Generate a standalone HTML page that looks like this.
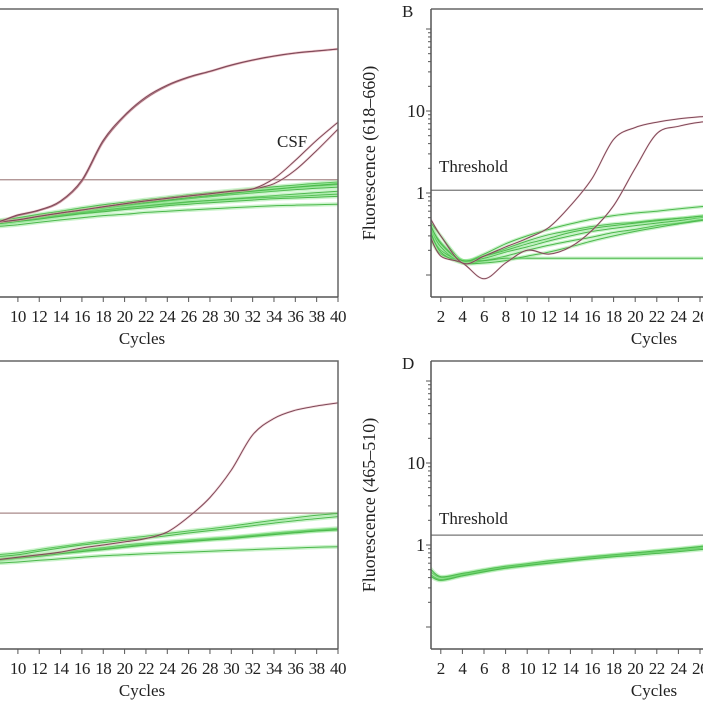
<!DOCTYPE html>
<html><head><meta charset="utf-8"><style>
html,body{margin:0;padding:0;background:#fff;}
svg{display:block;font-family:"Liberation Serif",serif;}
</style></head><body>
<svg id="fig" width="703" height="702" viewBox="0 0 703 702" xmlns="http://www.w3.org/2000/svg">
<defs>
<clipPath id="clipA"><rect x="0" y="9" width="338" height="288"/></clipPath>
<clipPath id="clipB"><rect x="431" y="9" width="272" height="288"/></clipPath>
</defs>
</svg>
<script>
const cycles = [1,2,4,6,8,10,12,14,16,18,20,22,24,26,28,30,32,34,36,38,40];
// Panel A
const aRed1 = [0.40,0.40,0.41,0.42,0.44,0.54,0.62,0.80,1.44,4.4,8.9,14.8,20.7,26,30.6,36.4,41.9,46.9,51,54,57];
const aRed2 = [0.39,0.40,0.41,0.42,0.44,0.53,0.61,0.78,1.38,4.2,8.6,14.3,20.2,25.5,30.2,36,41.5,46.5,50.8,53.8,57];
const aCsf1 = [0.38,0.39,0.40,0.42,0.44,0.47,0.52,0.57,0.62,0.68,0.74,0.80,0.86,0.92,0.98,1.05,1.12,1.5,2.5,4.4,7.3];
const aCsf2 = [0.38,0.39,0.40,0.42,0.44,0.47,0.52,0.57,0.62,0.68,0.74,0.80,0.86,0.92,0.98,1.05,1.12,1.3,1.9,3.3,6.0];
const aGreen = [
 [0.36,0.37,0.39,0.42,0.45,0.48,0.53,0.58,0.63,0.68,0.74,0.79,0.84,0.90,0.95,1.01,1.06,1.12,1.17,1.22,1.27],
 [0.35,0.36,0.38,0.41,0.44,0.47,0.51,0.55,0.60,0.65,0.70,0.75,0.80,0.85,0.90,0.95,1.00,1.05,1.10,1.14,1.18],
 [0.37,0.38,0.40,0.43,0.46,0.50,0.55,0.60,0.66,0.72,0.77,0.83,0.89,0.95,1.01,1.07,1.13,1.19,1.25,1.31,1.36],
 [0.34,0.35,0.37,0.39,0.42,0.45,0.49,0.53,0.57,0.61,0.65,0.69,0.73,0.77,0.81,0.85,0.89,0.93,0.97,1.01,1.05],
 [0.33,0.34,0.35,0.37,0.39,0.41,0.44,0.47,0.50,0.53,0.55,0.58,0.60,0.62,0.64,0.66,0.68,0.70,0.71,0.72,0.73],
 [0.35,0.36,0.38,0.40,0.43,0.46,0.50,0.54,0.58,0.62,0.66,0.70,0.74,0.78,0.81,0.84,0.87,0.89,0.91,0.94,0.97],
 [0.36,0.37,0.39,0.41,0.44,0.47,0.52,0.57,0.62,0.67,0.72,0.77,0.82,0.88,0.93,0.99,1.05,1.11,1.18,1.24,1.30],
 [0.34,0.35,0.37,0.40,0.42,0.45,0.48,0.52,0.56,0.59,0.63,0.66,0.70,0.73,0.76,0.79,0.82,0.85,0.87,0.89,0.91]
];
const aThreshold = 1.45;
// Panel B
const bGreen = [
 [0.45,0.30,0.15,0.16,0.19,0.22,0.26,0.30,0.34,0.37,0.40,0.43,0.46,0.50,0.53,0.55,0.57,0.59,0.61,0.63,0.65],
 [0.38,0.22,0.14,0.15,0.17,0.20,0.23,0.26,0.29,0.33,0.36,0.40,0.43,0.47,0.50,0.52,0.54,0.56,0.58,0.60,0.62],
 [0.32,0.20,0.15,0.17,0.21,0.26,0.31,0.35,0.39,0.42,0.44,0.47,0.49,0.52,0.55,0.57,0.59,0.61,0.63,0.65,0.67],
 [0.40,0.25,0.15,0.18,0.24,0.30,0.36,0.42,0.48,0.53,0.57,0.60,0.64,0.68,0.70,0.72,0.74,0.76,0.78,0.80,0.82],
 [0.28,0.18,0.15,0.15,0.16,0.16,0.16,0.16,0.16,0.16,0.16,0.16,0.16,0.16,0.16,0.16,0.16,0.16,0.16,0.16,0.16],
 [0.35,0.19,0.14,0.14,0.15,0.17,0.19,0.22,0.26,0.30,0.34,0.38,0.42,0.46,0.49,0.51,0.53,0.55,0.57,0.59,0.61],
 [0.42,0.24,0.15,0.17,0.20,0.24,0.28,0.33,0.37,0.40,0.43,0.46,0.49,0.52,0.56,0.58,0.60,0.62,0.64,0.66,0.68]
];
const bRed1 = [0.50,0.30,0.14,0.17,0.22,0.28,0.38,0.70,1.5,4.5,6.3,7.3,8.0,8.5,8.8,9.0,9.1,9.2,9.3,9.4,9.5];
const bRed2 = [0.30,0.17,0.14,0.09,0.14,0.20,0.18,0.22,0.35,0.70,2.0,5.3,6.5,7.3,7.6,7.8,8.0,8.1,8.2,8.3,8.4];
const bThreshold = 1.08;
// Panel C
const cRed = [0.55,0.56,0.58,0.62,0.66,0.71,0.76,0.82,0.92,1.0,1.09,1.2,1.44,2.2,3.8,8.2,22,35,44,49.5,54];
const cGreen = [
 [0.55,0.57,0.60,0.64,0.67,0.71,0.76,0.82,0.87,0.93,1.0,1.05,1.10,1.15,1.20,1.25,1.32,1.40,1.47,1.54,1.60],
 [0.54,0.56,0.59,0.62,0.66,0.70,0.74,0.79,0.84,0.90,0.96,1.02,1.07,1.12,1.17,1.22,1.29,1.36,1.43,1.50,1.56],
 [0.56,0.59,0.64,0.70,0.76,0.80,0.88,0.96,1.04,1.12,1.20,1.28,1.38,1.48,1.58,1.70,1.85,2.00,2.15,2.30,2.42],
 [0.56,0.58,0.62,0.67,0.72,0.76,0.84,0.92,1.0,1.07,1.14,1.21,1.30,1.40,1.50,1.60,1.72,1.85,1.98,2.10,2.22],
 [0.52,0.53,0.55,0.57,0.60,0.62,0.65,0.68,0.71,0.74,0.76,0.78,0.80,0.82,0.84,0.86,0.88,0.90,0.92,0.94,0.95],
 [0.53,0.55,0.58,0.61,0.65,0.69,0.73,0.78,0.83,0.88,0.94,1.00,1.05,1.10,1.15,1.20,1.27,1.34,1.41,1.48,1.53]
];
const cThreshold = 2.45;
// Panel D
const dGreen = [
 [0.48,0.40,0.44,0.49,0.54,0.58,0.62,0.66,0.71,0.75,0.80,0.84,0.89,0.94,1.0,1.04,1.08,1.12,1.15,1.18,1.21],
 [0.44,0.38,0.43,0.48,0.53,0.57,0.61,0.65,0.70,0.74,0.78,0.82,0.86,0.91,0.96,1.0,1.04,1.08,1.11,1.14,1.17],
 [0.52,0.41,0.45,0.50,0.55,0.59,0.64,0.68,0.72,0.76,0.80,0.85,0.90,0.96,1.02,1.06,1.10,1.14,1.17,1.20,1.23],
 [0.42,0.37,0.42,0.47,0.52,0.56,0.60,0.64,0.68,0.72,0.75,0.79,0.83,0.88,0.93,0.97,1.01,1.04,1.07,1.10,1.13]
];
const dThreshold = 1.32;
const xTicks = [2,4,6,8,10,12,14,16,18,20,22,24,26,28,30,32,34,36,38,40];
const yTickLabels = [1,10];

const NS = "http://www.w3.org/2000/svg";
const svg = document.getElementById('fig');
function mk(tag, attrs, parent){ const e=document.createElementNS(NS,tag); for(const k in attrs) e.setAttribute(k,attrs[k]); (parent||svg).appendChild(e); return e; }

function xA(c){ return 338 - (40-c)*10.67; }
function xB(c){ return 430 + (c-1)*10.8; }
function yLog(v, off){ return off + 193 - 82*Math.log10(v); }

function panel(id, off, clipId){
  const g = mk('g', {});
  
  
  const plot = mk('g', {'clip-path':'url(#'+clipId+')', transform:'translate(0,'+off+')'}, g);
  return {g, plot};
}
function smoothPath(pts){
  let d = 'M'+pts[0][0].toFixed(1)+','+pts[0][1].toFixed(1);
  for(let i=0;i<pts.length-1;i++){
    const p0=pts[Math.max(0,i-1)], p1=pts[i], p2=pts[i+1], p3=pts[Math.min(pts.length-1,i+2)];
    const c1x=p1[0]+(p2[0]-p0[0])/6, c1y=p1[1]+(p2[1]-p0[1])/6;
    const c2x=p2[0]-(p3[0]-p1[0])/6, c2y=p2[1]-(p3[1]-p1[1])/6;
    d+='C'+c1x.toFixed(1)+','+c1y.toFixed(1)+' '+c2x.toFixed(1)+','+c2y.toFixed(1)+' '+p2[0].toFixed(1)+','+p2[1].toFixed(1);
  }
  return d;
}
function line(parent, xs, vals, color, glow, name, gw){
  const pts = vals.map((v,i)=>[xs(cycles[i]), yLog(v,0)]);
  const d = smoothPath(pts);
  const wg = mk('path', {d, fill:'none', stroke:glow, 'stroke-width':gw, 'stroke-opacity':0.4, 'stroke-linejoin':'round'}, parent);
  
  
  const p = mk('path', {d, fill:'none', stroke:color, 'stroke-width':1, 'stroke-linejoin':'round'}, parent);
  
  
}
function thresholdLine(parent, x1, x2, v, color){
  const t = mk('line', {x1, x2, y1:yLog(v,0), y2:yLog(v,0), stroke:color, 'stroke-width':1.2}, parent);
  
  
}
function xAxis(g, xs, off, xmin, xmax, labelX){
  const ax = mk('line', {x1:xmin, x2:xmax, y1:off+297, y2:off+297, stroke:'#555', 'stroke-width':1.5}, g);
  
  
  xTicks.forEach(c=>{
    const x = xs(c);
    if (x < 8 || x > 715) return;
    mk('line', {x1:x, x2:x, y1:off+297, y2:off+302, stroke:'#555', 'stroke-width':1}, g);
    const t = mk('text', {x, y:off+322, 'text-anchor':'middle', 'font-size':17, fill:'#222', 'letter-spacing':'-0.5'}, g);
    t.textContent = c;
    
    
  });
  const tt = mk('text', {x:labelX, y:off+344, 'text-anchor':'middle', 'font-size':17, fill:'#222'}, g);
  tt.textContent = 'Cycles';
  
  
}
function frame(g, x1, x2, off){
  const r = mk('path', {d:'M'+x1+','+(off+9)+'H'+x2+'V'+(off+297), fill:'none', stroke:'#666', 'stroke-width':1.5}, g);
  
  
}
function yAxisLog(g, off, title, letter){
  const ax = mk('line', {x1:431, x2:431, y1:off+9, y2:off+297, stroke:'#555', 'stroke-width':1.5}, g);
  
  
  [0.1,1,10,100].forEach(dec=>{
    for(let m=1;m<10;m++){
      const v=dec*m; const y=yLog(v,off);
      if (y<off+9||y>off+297) continue;
      mk('line', {x1:431-(m===1?5:3), x2:431, y1:y, y2:y, stroke:'#555', 'stroke-width':1}, g);
    }
  });
  yTickLabels.forEach(v=>{
    const t = mk('text', {x:425, y:yLog(v,off)+6, 'text-anchor':'end', 'font-size':18, fill:'#222'}, g);
    t.textContent = v;
    
    
  });
  const tt = mk('text', {x:0, y:0, transform:'translate(375,'+(off+153)+') rotate(-90)', 'text-anchor':'middle', 'font-size':18, fill:'#222'}, g);
  tt.textContent = title;
  
  
  const L = mk('text', {x:402, y:off+17, 'font-size':17, fill:'#222'}, g);
  L.textContent = letter;
  
  
  const th = mk('text', {x:439, y:off+172, 'font-size':17, fill:'#222'}, g);
  th.textContent = 'Threshold';
  
  
}

const G='#4cb84c', GG='#7fe07f', R='#7d4858', RG='#e8a8b0';
// A
let P = panel('a', 0, 'clipA');
thresholdLine(P.plot, 0, 338, aThreshold, '#a88a8a');
aGreen.forEach((s,i)=>line(P.plot, xA, s, G, GG, 'a-green-curve-'+i, 4));
line(P.plot, xA, aCsf2, R, RG, 'a-csf-curve-2', 2.5);
line(P.plot, xA, aCsf1, R, RG, 'a-csf-curve-1', 2.5);
line(P.plot, xA, aRed2, R, RG, 'a-positive-curve-2', 2.5);
line(P.plot, xA, aRed1, R, RG, 'a-positive-curve-1', 2.5);
frame(P.g, 0, 338, 0);
xAxis(P.g, xA, 0, 0, 338, 142);
let csf = mk('text', {x:277, y:147, 'font-size':17, fill:'#222'}, P.g);
csf.textContent='CSF';


// B
P = panel('b', 0, 'clipB');
thresholdLine(P.plot, 431, 703, bThreshold, '#777');
bGreen.forEach((s,i)=>line(P.plot, xB, s, G, GG, 'b-green-curve-'+i, 3.5));
line(P.plot, xB, bRed2, R, RG, 'b-positive-curve-2', 2);
line(P.plot, xB, bRed1, R, RG, 'b-positive-curve-1', 2);
frame(P.g, 431, 710, 0);
xAxis(P.g, xB, 0, 431, 703, 654);
yAxisLog(P.g, 0, 'Fluorescence (618\u2013660)', 'B');
// C
P = panel('c', 352, 'clipA');
thresholdLine(P.plot, 0, 338, cThreshold, '#a88a8a');
cGreen.forEach((s,i)=>line(P.plot, xA, s, G, GG, 'c-green-curve-'+i, 4));
line(P.plot, xA, cRed, R, RG, 'c-positive-curve', 2.5);
frame(P.g, 0, 338, 352);
xAxis(P.g, xA, 352, 0, 338, 142);
// D
P = panel('d', 352, 'clipB');
thresholdLine(P.plot, 431, 703, dThreshold, '#777');
dGreen.forEach((s,i)=>line(P.plot, xB, s, G, GG, 'd-green-curve-'+i, 4));
frame(P.g, 431, 710, 352);
xAxis(P.g, xB, 352, 431, 703, 654);
yAxisLog(P.g, 352, 'Fluorescence (465\u2013510)', 'D');
</script>
</body></html>
